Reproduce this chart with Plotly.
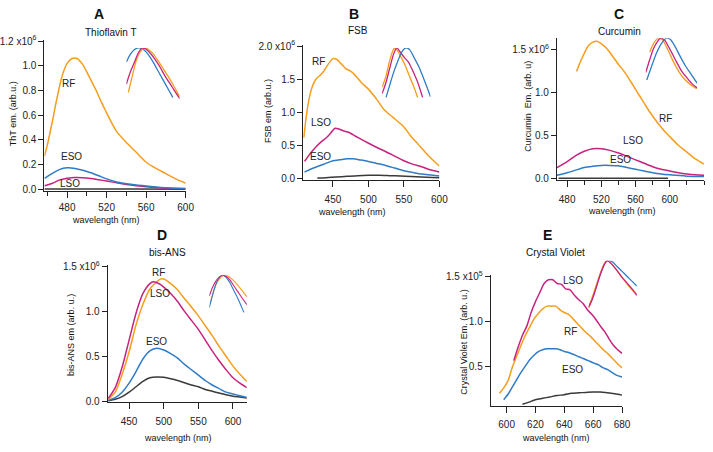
import plotly.graph_objects as go

W, H = 713, 452
ORANGE = "#F59D1C"
MAGENTA = "#C7227F"
BLUE = "#2F7BC6"
BLACK = "#3a3a3a"
FONT = "Liberation Sans"

# ---------------- Panel A : Thioflavin T (x1e6) ----------------
A_RF_x = [457, 460, 465, 470, 475, 480, 485, 490, 495, 500, 505, 510, 515, 520, 525, 530, 540, 550, 560, 570, 580, 590, 600]
A_RF_y = [0.27, 0.36, 0.55, 0.75, 0.92, 1.02, 1.06, 1.06, 1.02, 0.95, 0.87, 0.79, 0.70, 0.62, 0.54, 0.47, 0.38, 0.30, 0.22, 0.17, 0.128, 0.085, 0.05]
A_ESO_x = [457, 465, 472, 480, 488, 496, 504, 512, 520, 530, 540, 550, 560, 570, 580, 590, 600]
A_ESO_y = [0.09, 0.13, 0.16, 0.175, 0.17, 0.155, 0.135, 0.11, 0.085, 0.06, 0.045, 0.035, 0.028, 0.02, 0.014, 0.01, 0.007]
A_LSO_x = [457, 465, 472, 480, 488, 496, 504, 512, 520, 530, 540, 550, 560, 570, 580, 590, 600]
A_LSO_y = [0.03, 0.05, 0.075, 0.09, 0.097, 0.095, 0.088, 0.078, 0.068, 0.053, 0.04, 0.03, 0.022, 0.015, 0.01, 0.007, 0.005]
A_BLK_x = [457, 500, 550, 600]
A_BLK_y = [0.004, 0.004, 0.003, 0.002]
A_in_blue_x = [440, 448, 456, 464, 474, 484, 494, 504, 514, 524, 534]
A_in_blue_y = [0.89, 0.95, 0.985, 1.0, 0.99, 0.95, 0.89, 0.82, 0.75, 0.68, 0.61]
A_in_mag_x = [440, 448, 456, 464, 472, 480, 488, 498, 508, 518, 528, 538, 548]
A_in_mag_y = [0.715, 0.81, 0.885, 0.96, 1.0, 0.99, 0.96, 0.91, 0.85, 0.78, 0.72, 0.66, 0.6]
A_in_or_x = [444, 452, 460, 468, 476, 484, 494, 504, 514, 524, 536, 548]
A_in_or_y = [0.65, 0.78, 0.9, 0.97, 1.0, 0.99, 0.955, 0.9, 0.84, 0.78, 0.7, 0.615]

# ---------------- Panel B : FSB (x1e6) ----------------
B_RF_x = [409, 412, 416, 420, 426, 432, 437, 443, 450, 455, 460, 468, 475, 482, 490, 500, 510, 523, 535, 550, 560, 570, 580, 590, 600]
B_RF_y = [0.62, 0.9, 1.18, 1.36, 1.5, 1.56, 1.62, 1.72, 1.81, 1.80, 1.75, 1.66, 1.62, 1.55, 1.45, 1.35, 1.22, 1.03, 0.92, 0.78, 0.64, 0.52, 0.40, 0.29, 0.19]
B_LSO_x = [410, 418, 427, 435, 441, 447, 453, 458, 465, 472, 482, 492, 501, 512, 524, 537, 550, 562, 575, 588, 600]
B_LSO_y = [0.26, 0.38, 0.49, 0.57, 0.62, 0.69, 0.76, 0.75, 0.72, 0.70, 0.64, 0.58, 0.53, 0.47, 0.41, 0.34, 0.27, 0.22, 0.18, 0.13, 0.10]
B_ESO_x = [410, 420, 430, 440, 450, 460, 470, 478, 490, 500, 512, 524, 537, 550, 562, 575, 588, 600]
B_ESO_y = [0.10, 0.15, 0.19, 0.23, 0.27, 0.285, 0.30, 0.30, 0.28, 0.26, 0.23, 0.2, 0.16, 0.12, 0.095, 0.07, 0.055, 0.04]
B_BLK_x = [428, 440, 455, 470, 485, 500, 515, 530, 545, 560, 575, 590, 600]
B_BLK_y = [0.01, 0.015, 0.025, 0.035, 0.045, 0.05, 0.05, 0.045, 0.04, 0.033, 0.025, 0.018, 0.015]
B_in_or_x = [500, 508, 516, 524, 530, 538, 546, 554, 562, 572]
B_in_or_y = [0.69, 0.78, 0.91, 0.995, 0.985, 0.93, 0.87, 0.79, 0.715, 0.61]
B_in_mag_x = [500, 508, 516, 524, 530, 538, 546, 554, 562, 572, 582]
B_in_mag_y = [0.64, 0.73, 0.85, 0.96, 1.0, 0.96, 0.92, 0.885, 0.82, 0.73, 0.61]
B_in_blue_x = [508, 516, 524, 532, 540, 548, 556, 564, 574, 582, 590, 598]
B_in_blue_y = [0.61, 0.715, 0.815, 0.9, 0.97, 1.0, 0.985, 0.93, 0.855, 0.78, 0.7, 0.615]

# ---------------- Panel C : Curcumin (x1e6) ----------------
C_RF_x = [491, 495, 500, 505, 510, 515, 520, 525, 530, 535, 540, 545, 550, 555, 560, 565, 570, 575, 580, 585, 590, 595, 600, 610, 620, 630, 640]
C_RF_y = [1.25, 1.35, 1.46, 1.55, 1.59, 1.60, 1.57, 1.53, 1.47, 1.40, 1.33, 1.27, 1.20, 1.12, 1.04, 0.96, 0.88, 0.80, 0.73, 0.66, 0.60, 0.54, 0.49, 0.39, 0.31, 0.23, 0.17]
C_LSO_x = [468, 480, 490, 500, 510, 520, 530, 540, 550, 560, 570, 580, 590, 600, 610, 620, 630, 640]
C_LSO_y = [0.13, 0.20, 0.27, 0.32, 0.35, 0.35, 0.33, 0.30, 0.26, 0.22, 0.18, 0.14, 0.11, 0.09, 0.07, 0.055, 0.045, 0.04]
C_ESO_x = [468, 480, 490, 500, 510, 520, 530, 540, 550, 560, 570, 580, 590, 600, 620, 640]
C_ESO_y = [0.04, 0.07, 0.10, 0.13, 0.145, 0.155, 0.155, 0.15, 0.13, 0.11, 0.09, 0.07, 0.055, 0.045, 0.03, 0.025]
C_BLK_x = [470, 520, 560, 598]
C_BLK_y = [0.005, 0.005, 0.005, 0.005]
C_in_blue_x = [502, 512, 522, 532, 542, 550, 560, 570, 580, 592, 604]
C_in_blue_y = [0.67, 0.78, 0.885, 0.96, 1.0, 0.99, 0.93, 0.855, 0.785, 0.715, 0.645]
C_in_mag_x = [500, 508, 516, 524, 530, 538, 548, 560, 572, 584, 594, 604]
C_in_mag_y = [0.73, 0.83, 0.92, 0.975, 1.0, 0.985, 0.92, 0.83, 0.745, 0.685, 0.64, 0.61]
C_in_or_x = [508, 516, 526, 534, 544, 556, 568, 580, 592, 604]
C_in_or_y = [0.89, 0.96, 1.0, 0.985, 0.915, 0.815, 0.73, 0.67, 0.63, 0.6]

# ---------------- Panel D : bis-ANS (x1e6) ----------------
D_RF_x = [420, 430, 440, 450, 460, 470, 480, 490, 495, 500, 510, 520, 525, 530, 540, 550, 560, 570, 580, 590, 600, 610, 620]
D_RF_y = [0.02, 0.1, 0.3, 0.55, 0.85, 1.08, 1.25, 1.33, 1.36, 1.36, 1.31, 1.24, 1.19, 1.14, 1.05, 0.95, 0.84, 0.73, 0.61, 0.50, 0.39, 0.30, 0.22]
D_LSO_x = [420, 430, 440, 450, 460, 470, 480, 485, 490, 495, 500, 510, 520, 530, 540, 550, 560, 570, 580, 590, 600, 610, 620]
D_LSO_y = [0.03, 0.15, 0.38, 0.68, 0.98, 1.2, 1.31, 1.33, 1.32, 1.3, 1.27, 1.2, 1.11, 1.0, 0.9, 0.8, 0.68, 0.56, 0.45, 0.35, 0.26, 0.2, 0.15]
D_ESO_x = [420, 430, 440, 450, 460, 470, 480, 490, 500, 510, 520, 530, 540, 550, 560, 570, 580, 590, 600, 610, 620]
D_ESO_y = [0.01, 0.04, 0.1, 0.2, 0.33, 0.47, 0.56, 0.59, 0.57, 0.53, 0.48, 0.41, 0.35, 0.29, 0.23, 0.18, 0.14, 0.10, 0.08, 0.06, 0.04]
D_BLK_x = [420, 430, 440, 450, 460, 470, 480, 490, 500, 510, 520, 530, 540, 550, 560, 570, 580, 590, 600, 610, 620]
D_BLK_y = [0.005, 0.02, 0.05, 0.1, 0.16, 0.22, 0.26, 0.27, 0.265, 0.25, 0.23, 0.205, 0.18, 0.16, 0.13, 0.11, 0.09, 0.07, 0.055, 0.045, 0.035]
D_in_mag_x = [500, 506, 512, 518, 526, 534, 542, 550, 558, 566, 576]
D_in_mag_y = [0.79, 0.87, 0.93, 0.97, 1.0, 0.99, 0.95, 0.89, 0.83, 0.77, 0.70]
D_in_blue_x = [500, 506, 512, 518, 526, 534, 542, 550, 558, 564, 570]
D_in_blue_y = [0.67, 0.79, 0.89, 0.96, 1.0, 0.98, 0.92, 0.84, 0.76, 0.69, 0.62]
D_in_or_x = [502, 508, 514, 522, 530, 538, 546, 554, 562, 570, 576]
D_in_or_y = [0.71, 0.82, 0.91, 0.97, 1.0, 0.99, 0.96, 0.92, 0.87, 0.82, 0.78]

# ---------------- Panel E : Crystal Violet (x1e5) ----------------
E_LSO_x = [605, 608, 611, 614, 617, 620, 623, 626, 629, 632, 635, 638, 641, 644, 647, 650, 653, 656, 659, 662, 665, 668, 671, 674, 677, 680]
E_LSO_y = [0.57, 0.72, 0.85, 0.95, 1.1, 1.22, 1.32, 1.42, 1.46, 1.46, 1.42, 1.41, 1.36, 1.35, 1.29, 1.24, 1.2, 1.13, 1.08, 1.02, 0.95, 0.89, 0.81, 0.74, 0.69, 0.65]
E_RF_x = [595, 598, 601, 604, 607, 610, 613, 616, 619, 622, 625, 628, 631, 634, 637, 640, 643, 646, 649, 652, 655, 658, 661, 664, 667, 670, 673, 676, 680]
E_RF_y = [0.21, 0.27, 0.35, 0.5, 0.62, 0.74, 0.85, 0.94, 1.03, 1.09, 1.14, 1.17, 1.17, 1.17, 1.13, 1.1, 1.08, 1.03, 0.98, 0.93, 0.88, 0.84, 0.79, 0.74, 0.69, 0.65, 0.6, 0.55, 0.49]
E_ESO_x = [598, 601, 604, 607, 610, 613, 616, 619, 622, 625, 628, 631, 634, 637, 640, 643, 646, 649, 652, 655, 658, 661, 664, 667, 670, 673, 676, 680]
E_ESO_y = [0.14, 0.2, 0.28, 0.36, 0.44, 0.51, 0.58, 0.63, 0.67, 0.69, 0.70, 0.70, 0.70, 0.69, 0.67, 0.66, 0.64, 0.62, 0.60, 0.58, 0.56, 0.54, 0.52, 0.49, 0.47, 0.44, 0.41, 0.39]
E_BLK_x = [611, 615, 620, 625, 630, 635, 640, 645, 650, 655, 660, 665, 670, 675, 680]
E_BLK_y = [0.09, 0.11, 0.14, 0.155, 0.17, 0.185, 0.195, 0.21, 0.215, 0.22, 0.225, 0.225, 0.215, 0.205, 0.19]
E_in_mag_x = [600, 608, 616, 624, 632, 638, 646, 656, 668, 680, 690, 698]
E_in_mag_y = [0.61, 0.68, 0.78, 0.885, 0.967, 1.0, 0.975, 0.927, 0.86, 0.804, 0.755, 0.714]
E_in_or_x = [600, 608, 616, 624, 632, 638, 646, 656, 668, 680, 690, 698]
E_in_or_y = [0.6, 0.698, 0.796, 0.894, 0.975, 1.0, 0.975, 0.927, 0.86, 0.796, 0.747, 0.706]
E_in_blue_x = [602, 610, 618, 626, 634, 640, 648, 658, 668, 680, 690, 698]
E_in_blue_y = [0.624, 0.706, 0.812, 0.91, 0.984, 1.0, 0.992, 0.951, 0.91, 0.861, 0.82, 0.788]

# tick values
A_xticks = [480, 520, 560, 600]
A_yticks = [0.0, 0.2, 0.4, 0.6, 0.8, 1.0, 1.2]
B_xticks = [450, 500, 550, 600]
B_yticks = [0.0, 0.5, 1.0, 1.5, 2.0]
C_xticks = [480, 520, 560, 600]
C_yticks = [0.0, 0.5, 1.0, 1.5]
D_xticks = [450, 500, 550, 600]
D_yticks = [0.0, 0.5, 1.0, 1.5]
E_xticks = [600, 620, 640, 660, 680]
E_yticks = [0.5, 1.0, 1.5]


def dx(p0, p1):
    return [p0 / W, p1 / W]


def dy(top, bot):
    return [1 - bot / H, 1 - top / H]


def ytext(vals, exp):
    t = [f"{v:.1f}" for v in vals]
    t[-1] = t[-1] + f" x10<sup>{exp}</sup>"
    return t


fig = go.Figure()


def add(x, y, color, n, width=1.5):
    fig.add_trace(go.Scatter(x=x, y=y, mode="lines",
                             line=dict(color=color, width=width, shape="spline", smoothing=0.7),
                             xaxis=f"x{n}", yaxis=f"y{n}", showlegend=False, hoverinfo="skip"))


# main curves (black first so colored on top)
add(A_BLK_x, A_BLK_y, BLACK, 1); add(A_LSO_x, A_LSO_y, MAGENTA, 1); add(A_ESO_x, A_ESO_y, BLUE, 1); add(A_RF_x, A_RF_y, ORANGE, 1)
add(B_BLK_x, B_BLK_y, BLACK, 2); add(B_ESO_x, B_ESO_y, BLUE, 2); add(B_LSO_x, B_LSO_y, MAGENTA, 2); add(B_RF_x, B_RF_y, ORANGE, 2)
add(C_BLK_x, C_BLK_y, BLACK, 3); add(C_ESO_x, C_ESO_y, BLUE, 3); add(C_LSO_x, C_LSO_y, MAGENTA, 3); add(C_RF_x, C_RF_y, ORANGE, 3)
add(D_BLK_x, D_BLK_y, BLACK, 4); add(D_ESO_x, D_ESO_y, BLUE, 4); add(D_RF_x, D_RF_y, ORANGE, 4); add(D_LSO_x, D_LSO_y, MAGENTA, 4)
add(E_BLK_x, E_BLK_y, BLACK, 5); add(E_ESO_x, E_ESO_y, BLUE, 5); add(E_RF_x, E_RF_y, ORANGE, 5); add(E_LSO_x, E_LSO_y, MAGENTA, 5)
# insets
add(A_in_blue_x, A_in_blue_y, BLUE, 6, 1.3); add(A_in_or_x, A_in_or_y, ORANGE, 6, 1.3); add(A_in_mag_x, A_in_mag_y, MAGENTA, 6, 1.3)
add(B_in_or_x, B_in_or_y, ORANGE, 7, 1.3); add(B_in_mag_x, B_in_mag_y, MAGENTA, 7, 1.3); add(B_in_blue_x, B_in_blue_y, BLUE, 7, 1.3)
add(C_in_or_x, C_in_or_y, ORANGE, 8, 1.3); add(C_in_mag_x, C_in_mag_y, MAGENTA, 8, 1.3); add(C_in_blue_x, C_in_blue_y, BLUE, 8, 1.3)
add(D_in_or_x, D_in_or_y, ORANGE, 9, 1.1); add(D_in_blue_x, D_in_blue_y, BLUE, 9, 1.1); add(D_in_mag_x, D_in_mag_y, MAGENTA, 9, 1.1)
add(E_in_blue_x, E_in_blue_y, BLUE, 10, 1.3); add(E_in_or_x, E_in_or_y, ORANGE, 10, 1.3); add(E_in_mag_x, E_in_mag_y, MAGENTA, 10, 1.3)

tickfont = dict(family=FONT, size=10, color="#222")
axbase = dict(showline=True, linecolor="#222", linewidth=1, ticks="outside", tickcolor="#222",
              showgrid=False, zeroline=False, tickfont=tickfont, fixedrange=True)


def main_axes(n, xdom, ydom, xr, yr, xt, yt, ytt, xminor=None, standoff=4):
    xa = dict(axbase, domain=xdom, range=xr, tickvals=xt, anchor=f"y{n}", ticklen=6, ticklabelstandoff=standoff)
    if xminor:
        xa["minor"] = dict(dtick=xminor, ticks="outside", ticklen=4, tickcolor="#222")
    ya = dict(axbase, domain=ydom, range=yr, tickvals=yt, ticktext=ytt, anchor=f"x{n}", ticklen=5)
    return xa, ya


layout = dict(width=W, height=H, margin=dict(l=0, r=0, t=0, b=0), paper_bgcolor="white", plot_bgcolor="white",
              font=dict(family=FONT, color="#222"))

specs = [
    (1, dx(45, 188), dy(35, 190), [457, 600], [-0.016, 1.208], A_xticks, A_yticks, ytext(A_yticks, 6), 20, 1),
    (2, dx(307, 445), dy(40, 178), [408, 600], [-0.015, 2.015], B_xticks, B_yticks, ytext(B_yticks, 6), None, 4),
    (3, dx(564, 713), dy(33, 178), [468, 640], [-0.011, 1.636], C_xticks, C_yticks, ytext(C_yticks, 6), 20, 4),
    (4, dx(109, 250), dy(265, 406), [419, 620], [-0.011, 1.522], D_xticks, D_yticks, ytext(D_yticks, 6), None, 4),
    (5, dx(497, 630), dy(276, 410), [589, 680], [0.07, 1.51], E_xticks, E_yticks, ytext(E_yticks, 5), None, 3),
]
for n, xd, yd, xr, yr, xt, yt, ytt, mn, so in specs:
    xa, ya = main_axes(n, xd, yd, xr, yr, xt, yt, ytt, xminor=mn, standoff=so)
    layout["xaxis" if n == 1 else f"xaxis{n}"] = xa
    layout["yaxis" if n == 1 else f"yaxis{n}"] = ya

insets = [
    (6, dx(128, 182), dy(43, 95), [440, 548]),
    (7, dx(387, 436), dy(43, 95), [500, 598]),
    (8, dx(654, 706), dy(33, 85), [500, 604]),
    (9, dx(212, 250), dy(276, 316), [500, 576]),
    (10, dx(596, 645), dy(261, 310), [600, 698]),
]
hidden = dict(showline=False, showticklabels=False, ticks="", showgrid=False, zeroline=False, fixedrange=True)
for n, xd, yd, xr in insets:
    layout[f"xaxis{n}"] = dict(hidden, domain=xd, range=xr, anchor=f"y{n}")
    layout[f"yaxis{n}"] = dict(hidden, domain=yd, range=[0.6, 1.0], anchor=f"x{n}")

fig.update_layout(**layout)

ann = []


def pa(text, x, y, size=9, angle=0, bold=False):
    ann.append(dict(text=f"<b>{text}</b>" if bold else text, x=x / W, y=1 - y / H, xref="paper", yref="paper",
                    showarrow=False, textangle=angle, xanchor="center", yanchor="middle",
                    font=dict(family=FONT, size=size, color="#111")))


def da(text, x, y, n):
    ann.append(dict(text=text, x=x, y=y, xref=f"x{n}", yref=f"y{n}", showarrow=False,
                    xanchor="center", yanchor="middle", font=dict(family=FONT, size=10, color="#222")))


# panel letters and titles
pa("A", 100, 8, 14, bold=True); pa("Thioflavin T", 112, 27, 10)
pa("B", 359, 8, 14, bold=True); pa("FSB", 363, 25, 10)
pa("C", 627, 8, 14, bold=True); pa("Curcumin", 627, 26, 10)
pa("D", 164, 235, 14, bold=True); pa("bis-ANS", 170, 253, 10)
pa("E", 554, 235, 14, bold=True); pa("Crystal Violet", 563, 253, 10)
# axis titles
pa("ThT em. (arb.u.)", 13, 110, 9, -90)
pa("FSB em (arb.u.)", 272, 108, 9, -90)
pa("Curcumin  Em. (arb. u)", 535, 103, 9, -90)
pa("bis-ANS em (arb. u.)", 72, 337, 9, -90)
pa("Crystal Violet Em. (arb. u.)", 470, 345, 9, -90)
pa("wavelength (nm)", 107, 219, 9)
pa("wavelength (nm)", 357, 211, 9)
pa("wavelength (nm)", 630, 210, 9)
pa("wavelength (nm)", 180, 443, 9)
pa("wavelength (nm)", 563, 443, 9)
# curve labels
da("RF", 481, 0.86, 1); da("ESO", 484, 0.27, 1); da("LSO", 483, 0.045, 1)
da("RF", 429, 1.76, 2); da("LSO", 433, 0.84, 2); da("ESO", 433, 0.34, 2)
da("RF", 595, 0.70, 3); da("LSO", 557, 0.45, 3); da("ESO", 542, 0.22, 3)
da("RF", 492, 1.43, 4); da("LSO", 494, 1.20, 4); da("ESO", 490, 0.66, 4)
da("LSO", 646, 1.457, 5); da("RF", 644, 0.89, 5); da("ESO", 646, 0.47, 5)

fig.update_layout(annotations=ann)
fig.write_html("out.html", config={"displayModeBar": False, "staticPlot": True},
               post_script="document.body.style.margin='0';document.body.style.overflow='hidden';")
